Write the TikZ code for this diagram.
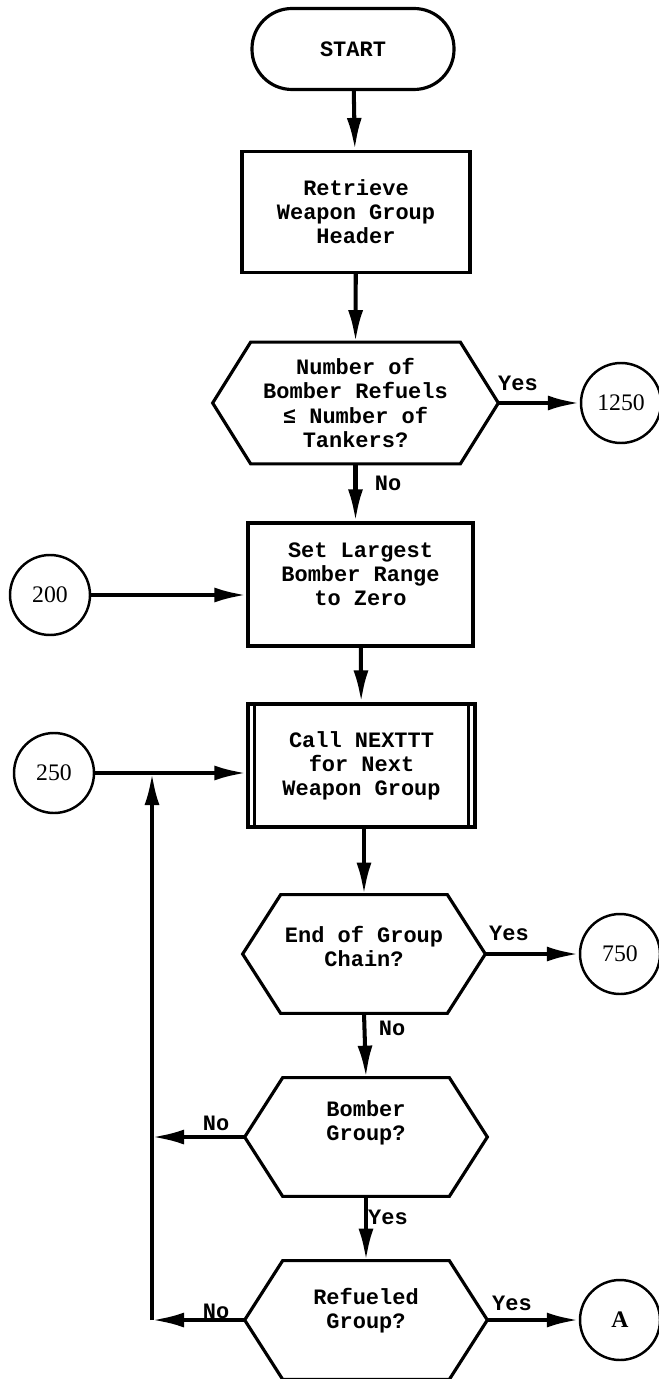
\documentclass[tikz,border=0pt]{standalone}
\usepackage{fontspec}
\setmainfont{Liberation Serif}
\setmonofont{Liberation Mono}
\usetikzlibrary{arrows.meta}

\newcommand{\boxfont}{\fontsize{12.5}{13.7}\selectfont\ttfamily\bfseries}
\newcommand{\numfont}{\fontsize{13.5}{15}\selectfont\rmfamily}

\tikzstyle{line} = [draw, line width=2.3pt, -{Latex[length=0.64cm,width=0.3cm]}]
\tikzstyle{block} = [rectangle, draw, line width=1.8pt, align=center, font=\boxfont, inner sep=0pt]
\tikzstyle{terminator} = [block, rounded corners=0.8cm, minimum width=4.04cm, minimum height=1.62cm]
\tikzstyle{callbox} = [block, append after command={\pgfextra{
	\draw[line width=1.5pt] ([xshift=0.16cm]\tikzlastnode.north west) -- ([xshift=0.16cm]\tikzlastnode.south west);
	\draw[line width=1.5pt] ([xshift=-0.16cm]\tikzlastnode.north east) -- ([xshift=-0.16cm]\tikzlastnode.south east);}}]
\tikzstyle{decision} = [rectangle, align=center, font=\boxfont, inner sep=0pt,
	minimum width=4.84cm, minimum height=2.36cm, append after command={\pgfextra{
	\draw[line width=1.8pt] ([xshift=0.76cm]\tikzlastnode.north west) -- ([xshift=-0.76cm]\tikzlastnode.north east)
		-- (\tikzlastnode.east) -- ([xshift=-0.76cm]\tikzlastnode.south east)
		-- ([xshift=0.76cm]\tikzlastnode.south west) -- (\tikzlastnode.west) -- cycle;}}]
\tikzstyle{connector} = [circle, draw, line width=1.4pt, minimum size=1.6cm, inner sep=0pt, font=\numfont]
\tikzstyle{answer} = [font=\boxfont, inner sep=0pt]

\begin{document}
\begin{tikzpicture}[]
		\useasboundingbox (0,0) rectangle (13.16,-27.58);

		%main column
		\node[terminator](start) at (7.06,-0.98) {START};
		\node[block, minimum width=4.56cm, minimum height=2.42cm](retrieve) at (7.12,-4.24) {Retrieve\\Weapon Group\\Header};
		\node[decision, minimum width=5.7cm, minimum height=2.42cm](refuels) at (7.11,-8.06) {Number of\\Bomber Refuels\\≤ Number of\\Tankers?};
		\node[block, minimum width=4.5cm, minimum height=2.46cm, text depth=0.4cm](largest) at (7.21,-11.69) {Set Largest\\Bomber Range\\to Zero};
		\node[callbox, minimum width=4.54cm, minimum height=2.46cm](nexttt) at (7.23,-15.31) {Call NEXTTT\\for Next\\Weapon Group};
		\node[decision, text depth=0.3cm](chain) at (7.28,-19.08) {End of Group\\Chain?};
		\node[decision, text depth=0.65cm](bomber) at (7.32,-22.74) {Bomber\\Group?};
		\node[decision, text depth=0.45cm](refueled) at (7.32,-26.4) {Refueled\\Group?};

		%off-page connectors
		\node[connector](c1250) at (12.42,-8.06) {1250};
		\node[connector](c200) at (1.0,-11.9) {200};
		\node[connector](c250) at (1.08,-15.46) {250};
		\node[connector](c750) at (12.4,-19.08) {750};
		\node[connector](ca) at (12.4,-26.4) {\bfseries A};

		%return line
		\coordinate (back) at (3.04,-26.4);
		\coordinate (join) at (c250 -| back);

		%labels
		\node[answer](yes1) at (10.36,-7.66) {Yes};
		\node[answer](no1) at (7.76,-9.66) {No};
		\node[answer](yes2) at (10.18,-18.66) {Yes};
		\node[answer](no2) at (7.84,-20.56) {No};
		\node[answer](no3) at (4.32,-22.46) {No};
		\node[answer](yes3) at (7.76,-24.34) {Yes};
		\node[answer](no4) at (4.32,-26.22) {No};
		\node[answer](yes4) at (10.24,-26.06) {Yes};

		%arrows
		\path[line] (start) -- (retrieve);
		\path[line] (retrieve) -- (refuels.north);
		\path[line] (refuels.east) -- (c1250);
		\path[line] (refuels.south) -- (refuels.south |- largest.north);
		\path[line] (c200) -- (c200 -| largest.west);
		\path[line] (largest) -- (nexttt);
		\path[line] (c250) -- (c250 -| nexttt.west);
		\path[line] (nexttt.south -| chain.north) -- (chain.north);
		\path[line] (chain.east) -- (c750);
		\path[line] (chain.south) -- (bomber.north);
		\path[line] (bomber.west) -- (bomber.west -| back);
		\path[line] (bomber.south) -- (refueled.north);
		\path[line] (refueled.west) -- (back);
		\path[line] (back) -- (join);
		\path[line] (refueled.east) -- (ca);
		\end{tikzpicture}
\end{document}
